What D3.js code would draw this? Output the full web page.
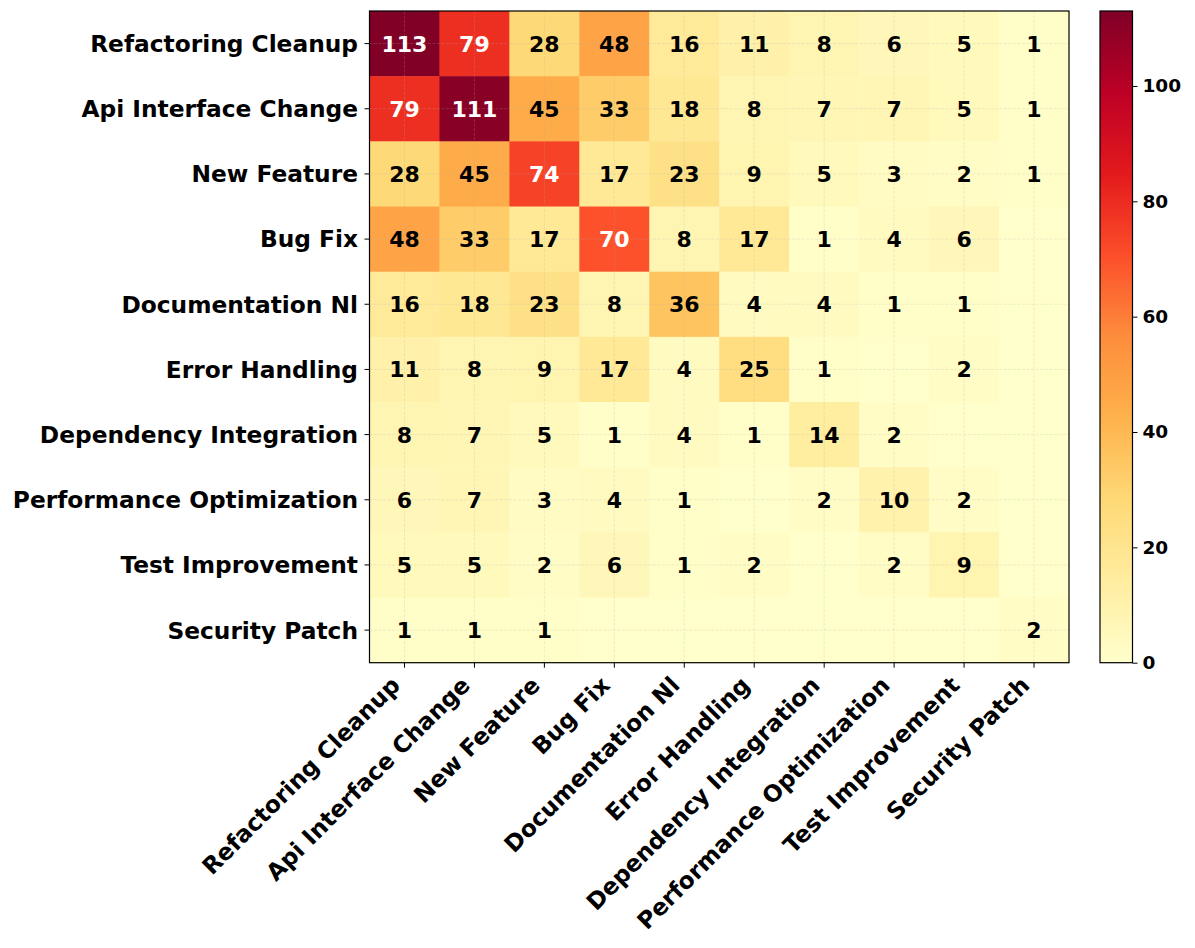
<!DOCTYPE html>
<html>
<head>
<meta charset="utf-8">
<script src="https://cdn.jsdelivr.net/npm/d3@7"></script>
<style>
  body { margin: 0; background: #fff; }
  text { font-family: "DejaVu Sans", sans-serif; font-weight: bold; }
</style>
</head>
<body>
<svg id="chart" width="1195" height="948"></svg>
<script>
// categories (same order for rows and columns)
const categories = [
  "Refactoring Cleanup", "Api Interface Change", "New Feature", "Bug Fix",
  "Documentation Nl", "Error Handling", "Dependency Integration",
  "Performance Optimization", "Test Improvement", "Security Patch"
];

// co-occurrence counts, one array per row
const rowRefactoring = [113, 79, 28, 48, 16, 11, 8, 6, 5, 1];
const rowApi         = [79, 111, 45, 33, 18, 8, 7, 7, 5, 1];
const rowNewFeature  = [28, 45, 74, 17, 23, 9, 5, 3, 2, 1];
const rowBugFix      = [48, 33, 17, 70, 8, 17, 1, 4, 6, 0];
const rowDocs        = [16, 18, 23, 8, 36, 4, 4, 1, 1, 0];
const rowError       = [11, 8, 9, 17, 4, 25, 1, 0, 2, 0];
const rowDependency  = [8, 7, 5, 1, 4, 1, 14, 2, 0, 0];
const rowPerformance = [6, 7, 3, 4, 1, 0, 2, 10, 2, 0];
const rowTest        = [5, 5, 2, 6, 1, 2, 0, 2, 9, 0];
const rowSecurity    = [1, 1, 1, 0, 0, 0, 0, 0, 0, 2];

const colorbarTicks = [0, 20, 40, 60, 80, 100];

const matrix = [rowRefactoring, rowApi, rowNewFeature, rowBugFix, rowDocs,
  rowError, rowDependency, rowPerformance, rowTest, rowSecurity];

// YlOrRd, linear between the brewer stops like matplotlib does
const ylorrd = ["#ffffcc", "#ffeda0", "#fed976", "#feb24c", "#fd8d3c",
  "#fc4e2a", "#e31a1c", "#bd0026", "#800026"];

const svg = d3.select("#chart");
const mLeft = 369.5, mRight = 1069, mTop = 11, mBottom = 662.7;

const vmax = d3.max(matrix, r => d3.max(r));
const color = d3.scaleLinear()
  .domain(ylorrd.map((c, i) => vmax * i / (ylorrd.length - 1)))
  .range(ylorrd)
  .interpolate(d3.interpolateRgb);

const x = d3.scaleBand().domain(categories).range([mLeft, mRight]).padding(0);
const y = d3.scaleBand().domain(categories).range([mTop, mBottom]).padding(0);

const cells = [];
matrix.forEach((row, i) => row.forEach((v, j) => cells.push({r: categories[i], c: categories[j], v: v})));

const g = svg.append("g");
g.selectAll("rect.cell").data(cells).enter().append("rect")
  .attr("class", "cell")
  .attr("x", d => x(d.c))
  .attr("y", d => y(d.r))
  .attr("width", x.bandwidth() + 0.5)
  .attr("height", y.bandwidth() + 0.5)
  .attr("fill", d => color(d.v));

// faint dashed grid at tick positions
g.selectAll("line.gx").data(categories).enter().append("line")
  .attr("x1", d => x(d) + x.bandwidth() / 2).attr("x2", d => x(d) + x.bandwidth() / 2)
  .attr("y1", mTop).attr("y2", mBottom)
  .attr("stroke", "#b0b0b0").attr("stroke-opacity", 0.3)
  .attr("stroke-width", 0.8).attr("stroke-dasharray", "3,1.5");
g.selectAll("line.gy").data(categories).enter().append("line")
  .attr("y1", d => y(d) + y.bandwidth() / 2).attr("y2", d => y(d) + y.bandwidth() / 2)
  .attr("x1", mLeft).attr("x2", mRight)
  .attr("stroke", "#b0b0b0").attr("stroke-opacity", 0.3)
  .attr("stroke-width", 0.8).attr("stroke-dasharray", "3,1.5");

// values (zeros left blank)
g.selectAll("text.val").data(cells.filter(d => d.v > 0)).enter().append("text")
  .attr("class", "val")
  .attr("x", d => x(d.c) + x.bandwidth() / 2)
  .attr("y", d => y(d.r) + y.bandwidth() / 2)
  .attr("dy", "0.36em")
  .attr("text-anchor", "middle")
  .style("font-size", "22px")
  .attr("fill", d => d.v > vmax / 2 ? "#fff" : "#000")
  .text(d => d.v);

// frame
svg.append("rect")
  .attr("x", mLeft).attr("y", mTop)
  .attr("width", mRight - mLeft).attr("height", mBottom - mTop)
  .attr("fill", "none").attr("stroke", "#000").attr("stroke-width", 1.2);

// y axis
const yAxis = svg.append("g")
  .attr("transform", `translate(${mLeft},0)`)
  .call(d3.axisLeft(y).tickSize(5).tickPadding(6.5));
yAxis.select(".domain").remove();
yAxis.selectAll(".tick line").attr("stroke", "#000").attr("stroke-width", 1);
yAxis.selectAll(".tick text")
  .style("font-size", "23.3px").attr("fill", "#000").attr("dy", "0.36em");

// x axis, rotated labels
const xAxis = svg.append("g")
  .attr("transform", `translate(0,${mBottom})`)
  .call(d3.axisBottom(x).tickSize(5).tickPadding(4));
xAxis.select(".domain").remove();
xAxis.selectAll(".tick line").attr("stroke", "#000").attr("stroke-width", 1);
xAxis.selectAll(".tick text")
  .style("font-size", "23.3px").attr("fill", "#000")
  .attr("text-anchor", "end")
  .attr("dy", null)
  .attr("y", 0)
  .attr("transform", "translate(-3,24) rotate(-45)");

// colorbar
const cbX = 1100, cbW = 32.5;
const defs = svg.append("defs");
const grad = defs.append("linearGradient").attr("id", "cbgrad")
  .attr("x1", 0).attr("y1", 1).attr("x2", 0).attr("y2", 0);
ylorrd.forEach((c, i) => grad.append("stop")
  .attr("offset", i / (ylorrd.length - 1)).attr("stop-color", c));

const cbScale = d3.scaleLinear().domain([0, vmax]).range([mBottom, mTop]);
svg.append("rect")
  .attr("x", cbX).attr("y", mTop).attr("width", cbW).attr("height", mBottom - mTop)
  .attr("fill", "url(#cbgrad)")
  .attr("stroke", "#000").attr("stroke-width", 1.2);

const cbAxis = svg.append("g")
  .attr("transform", `translate(${cbX + cbW},0)`)
  .call(d3.axisRight(cbScale).tickValues(colorbarTicks).tickSize(5).tickPadding(5));
cbAxis.select(".domain").remove();
cbAxis.selectAll(".tick line").attr("stroke", "#000").attr("stroke-width", 1);
cbAxis.selectAll(".tick text")
  .style("font-size", "18.5px").attr("fill", "#000");
</script>
</body>
</html>
